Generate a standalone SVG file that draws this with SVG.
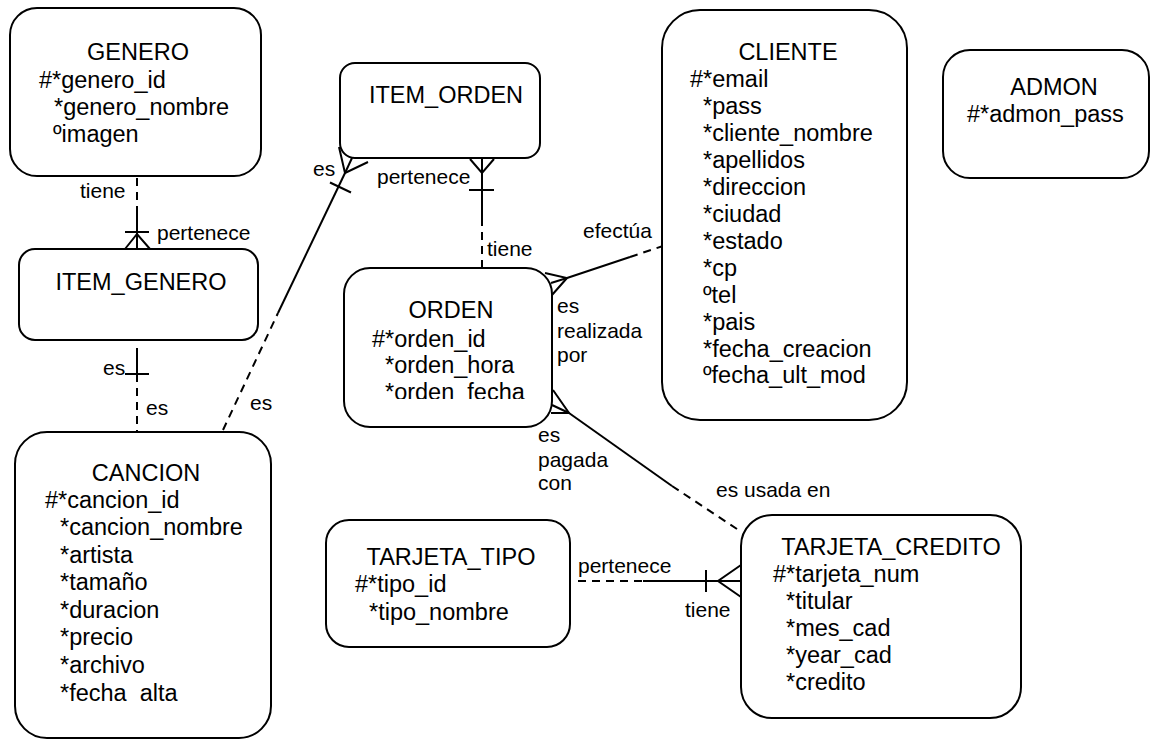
<svg xmlns="http://www.w3.org/2000/svg" width="1151" height="740" viewBox="0 0 1151 740">
  <style>
    .box { fill: #ffffff; stroke: #000000; stroke-width: 2; }
    .t { font-family: "Liberation Sans", Arial, sans-serif; font-size: 23.5px; fill: #000000; }
    .title { text-anchor: middle; }
    .lbl { font-family: "Liberation Sans", Arial, sans-serif; font-size: 21px; fill: #000000; }
    .solid { fill: none; stroke: #000000; stroke-width: 2; }
    .dash { fill: none; stroke: #000000; stroke-width: 2; stroke-dasharray: 8 6; }
  </style>
  <defs>
    <clipPath id="ordenClip">
      <rect x="344" y="268" width="208" height="131"/>
    </clipPath>
  </defs>
  <rect width="1151" height="740" fill="#ffffff"/>

  <!-- relationship lines -->
  <g id="connectors">
    <!-- GENERO / ITEM_GENERO -->
    <line class="dash" x1="137" y1="178" x2="137" y2="213"/>
    <line class="solid" x1="137" y1="213" x2="137" y2="249"/>
    <line class="solid" x1="125" y1="232" x2="149" y2="232"/>
    <polyline class="solid" points="125,249 137,234 150,249"/>
    <text class="lbl" x="80" y="198">tiene</text>
    <text class="lbl" x="157" y="240">pertenece</text>

    <!-- ITEM_GENERO / CANCION -->
    <line class="solid" x1="137" y1="348" x2="137" y2="374"/>
    <line class="solid" x1="125" y1="374" x2="149" y2="374"/>
    <line class="dash" x1="137" y1="374" x2="137" y2="432"/>
    <text class="lbl" x="103" y="375">es</text>
    <text class="lbl" x="146" y="415">es</text>

    <!-- CANCION / ITEM_ORDEN -->
    <line class="dash" x1="223" y1="430" x2="278" y2="313"/>
    <line class="solid" x1="278" y1="313" x2="345" y2="173"/>
    <line class="solid" x1="330" y1="182.5" x2="351" y2="192.5"/>
    <polyline class="solid" points="339,147 345,173 368,162"/>
    <line class="solid" x1="345" y1="173" x2="352" y2="158"/>
    <text class="lbl" x="313" y="176">es</text>
    <text class="lbl" x="250" y="410">es</text>

    <!-- ITEM_ORDEN / ORDEN -->
    <line class="solid" x1="482" y1="159" x2="482" y2="218"/>
    <polyline class="solid" points="470,159 482,173 494,159"/>
    <line class="solid" x1="469" y1="190" x2="494" y2="190"/>
    <line class="dash" x1="482" y1="218" x2="482" y2="268"/>
    <text class="lbl" x="377" y="184">pertenece</text>
    <text class="lbl" x="487" y="256">tiene</text>

    <!-- ORDEN / CLIENTE -->
    <line class="solid" x1="567" y1="278" x2="630" y2="257"/>
    <line class="dash" x1="630" y1="257" x2="663" y2="246"/>
    <polyline class="solid" points="545,273 567,278 552,295"/>
    <line class="solid" x1="567" y1="278" x2="551" y2="283"/>
    <text class="lbl" x="583" y="238">efectúa</text>
    <text class="lbl" x="557" y="313">es</text>
    <text class="lbl" x="557" y="338">realizada</text>
    <text class="lbl" x="557" y="362">por</text>

    <!-- ORDEN / TARJETA_CREDITO -->
    <line class="solid" x1="569" y1="413" x2="672" y2="486"/>
    <line class="dash" x1="672" y1="486" x2="737" y2="529"/>
    <polyline class="solid" points="553,390 569,413 551,413"/>
    <line class="solid" x1="569" y1="413" x2="552" y2="405"/>
    <text class="lbl" x="538" y="442">es</text>
    <text class="lbl" x="538" y="467">pagada</text>
    <text class="lbl" x="538" y="490">con</text>
    <text class="lbl" x="716" y="497">es usada en</text>

    <!-- TARJETA_TIPO / TARJETA_CREDITO -->
    <line class="dash" x1="578" y1="581" x2="643" y2="581"/>
    <line class="solid" x1="643" y1="581" x2="741" y2="581"/>
    <line class="solid" x1="706" y1="570" x2="706" y2="592"/>
    <polyline class="solid" points="741,565 718,581 741,597"/>
    <text class="lbl" x="578" y="573">pertenece</text>
    <text class="lbl" x="685" y="617">tiene</text>
  </g>

  <!-- entities -->
  <g id="genero">
    <rect class="box" x="10" y="8" width="251" height="168" rx="27"/>
    <text class="t title" x="138" y="60">GENERO</text>
    <text class="t" x="39" y="88">#*genero_id</text>
    <text class="t" x="54" y="115">*genero_nombre</text>
    <text class="t" x="53" y="142">ºimagen</text>
  </g>

  <g id="item_genero">
    <rect class="box" x="19" y="249" width="239" height="91" rx="16"/>
    <text class="t title" x="141" y="290">ITEM_GENERO</text>
  </g>

  <g id="item_orden">
    <rect class="box" x="340" y="63" width="200" height="95" rx="15"/>
    <text class="t title" x="446" y="103">ITEM_ORDEN</text>
  </g>

  <g id="orden">
    <rect class="box" x="344" y="268" width="208" height="159" rx="26"/>
    <text class="t title" x="451" y="318">ORDEN</text>
    <text class="t" x="372" y="347">#*orden_id</text>
    <text class="t" x="385" y="373">*orden_hora</text>
    <text class="t" x="385" y="400" clip-path="url(#ordenClip)">*orden_fecha</text>
  </g>

  <g id="cliente">
    <rect class="box" x="662" y="10" width="245" height="410" rx="38"/>
    <text class="t title" x="788" y="60">CLIENTE</text>
    <text class="t" x="690" y="87">#*email</text>
    <text class="t" x="703" y="114">*pass</text>
    <text class="t" x="703" y="141">*cliente_nombre</text>
    <text class="t" x="703" y="168">*apellidos</text>
    <text class="t" x="703" y="195">*direccion</text>
    <text class="t" x="703" y="222">*ciudad</text>
    <text class="t" x="703" y="249">*estado</text>
    <text class="t" x="703" y="276">*cp</text>
    <text class="t" x="703" y="303">ºtel</text>
    <text class="t" x="703" y="330">*pais</text>
    <text class="t" x="703" y="357">*fecha_creacion</text>
    <text class="t" x="703" y="383">ºfecha_ult_mod</text>
  </g>

  <g id="admon">
    <rect class="box" x="943" y="50" width="206" height="128" rx="27"/>
    <text class="t title" x="1054" y="95">ADMON</text>
    <text class="t" x="967" y="122">#*admon_pass</text>
  </g>

  <g id="cancion">
    <rect class="box" x="15" y="432" width="256" height="306" rx="32"/>
    <text class="t title" x="146" y="481">CANCION</text>
    <text class="t" x="45" y="508">#*cancion_id</text>
    <text class="t" x="60" y="535">*cancion_nombre</text>
    <text class="t" x="60" y="563">*artista</text>
    <text class="t" x="60" y="590">*tamaño</text>
    <text class="t" x="60" y="618">*duracion</text>
    <text class="t" x="60" y="645">*precio</text>
    <text class="t" x="60" y="673">*archivo</text>
    <text class="t" x="60" y="701" style="white-space:pre">*fecha  alta</text>
  </g>

  <g id="tarjeta_tipo">
    <rect class="box" x="326" y="520" width="244" height="127" rx="23"/>
    <text class="t title" x="451" y="565">TARJETA_TIPO</text>
    <text class="t" x="355" y="592">#*tipo_id</text>
    <text class="t" x="369" y="620">*tipo_nombre</text>
  </g>

  <g id="tarjeta_credito">
    <rect class="box" x="741" y="515" width="280" height="203" rx="31"/>
    <text class="t title" x="891" y="555">TARJETA_CREDITO</text>
    <text class="t" x="773" y="582">#*tarjeta_num</text>
    <text class="t" x="786" y="609">*titular</text>
    <text class="t" x="786" y="636">*mes_cad</text>
    <text class="t" x="786" y="663">*year_cad</text>
    <text class="t" x="786" y="690">*credito</text>
  </g>
</svg>
